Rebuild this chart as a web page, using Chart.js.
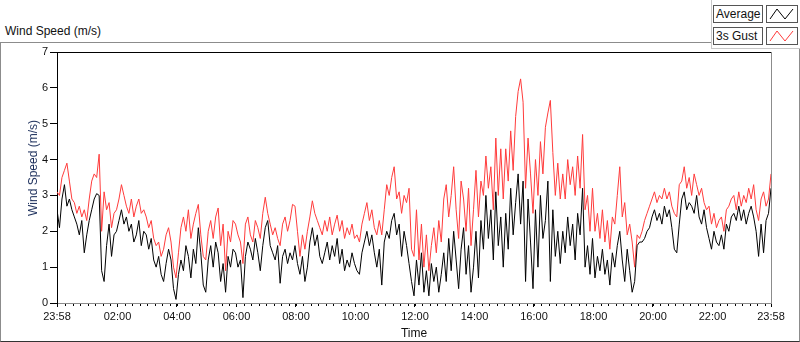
<!DOCTYPE html>
<html><head><meta charset="utf-8">
<script src="https://cdn.jsdelivr.net/npm/chart.js@4.4.1/dist/chart.umd.min.js"></script>
<style>
html,body{margin:0;padding:0;background:#fff;}
body{width:800px;height:342px;position:relative;overflow:hidden;font-family:"Liberation Sans",Arial,sans-serif;}
#panel{position:absolute;left:0;top:42px;width:798px;height:298px;border:1px solid #8c8c8c;border-bottom-color:#333;}
#c{position:absolute;left:0;top:0;}
#title{position:absolute;left:5px;top:24px;font-size:12px;color:#111;white-space:nowrap;}
#ytitle{position:absolute;left:33px;top:168px;transform:translate(-50%,-50%) rotate(-90deg);font-size:12px;color:#1a2d5a;white-space:nowrap;}
#xtitle{position:absolute;left:414px;top:333px;transform:translate(-50%,-50%);font-size:12px;color:#111;white-space:nowrap;}
#legend{position:absolute;left:711px;top:-1px;width:90px;height:49px;border-left:1px solid #c8c8c8;border-bottom:1px solid #c8c8c8;background:#fff;}
.lbl{position:absolute;left:713px;width:50px;height:18px;border:1px solid #555;font-size:12px;line-height:16px;padding-left:2px;box-sizing:border-box;color:#111;background:#fff;white-space:nowrap;}
.ico{position:absolute;left:766px;width:32px;height:18px;border:1px solid #555;box-sizing:border-box;background:#fff;}
.ico svg{position:absolute;left:0;top:0;}
</style>
</head><body>
<div id="panel"></div>
<div id="legend"></div>
<div class="lbl" style="top:5px">Average</div>
<div class="ico" style="top:5px"><svg width="30" height="16"><polyline points="3,13 10,3 18,13 26,3" fill="none" stroke="#000" stroke-width="1"/></svg></div>
<div class="lbl" style="top:27px">3s Gust</div>
<div class="ico" style="top:27px"><svg width="30" height="16"><polyline points="3,13 10,3 18,13 26,3" fill="none" stroke="#ff3b3b" stroke-width="1"/></svg></div>
<div id="title">Wind Speed (m/s)</div>
<canvas id="c" width="800" height="342"></canvas>
<div id="ytitle">Wind Speed (m/s)</div>
<div id="xtitle">Time</div>
<script>
// sample spacing (minutes from the 23:58 start)
const SAMPLE_MIN = 5;

// Average wind speed (m/s), one row per hour from 23:58
const averageSpeed = [
 2.6,2.1,2.9,3.3,2.7,2.9,2.6,2.4,2.2,1.9,2.3,1.4,
 1.9,2.3,2.6,2.9,3.05,3.0,0.9,0.6,1.6,2.2,1.3,1.9,
 2.0,2.3,2.6,2.2,2.4,2.0,2.2,1.7,1.9,2.3,1.6,2.0,
 1.9,1.5,1.8,1.2,1.0,1.3,0.8,0.6,1.1,1.5,1.2,0.4,
 0.1,0.8,1.2,0.9,1.6,1.3,0.7,1.5,1.1,2.1,1.4,0.5,
 0.3,1.2,1.6,1.0,1.7,1.4,0.6,1.1,0.3,1.3,1.0,1.5,
 1.4,1.0,1.2,0.15,1.3,1.7,1.5,1.2,1.8,1.4,0.9,1.6,
 2.1,2.3,1.6,1.4,1.2,1.6,0.55,1.3,1.5,1.1,1.4,1.2,
 1.6,1.1,0.8,1.3,0.6,1.0,1.7,2.1,1.6,1.9,1.3,1.1,
 1.4,1.7,1.2,1.6,1.3,1.8,1.1,1.5,0.9,1.2,1.0,1.4,
 1.1,0.9,0.8,1.4,1.7,2.0,1.6,1.9,1.4,1.0,1.5,0.5,
 1.7,2.0,1.8,2.3,2.5,1.9,2.2,1.3,2.0,1.6,1.1,0.6,
 0.2,1.2,0.5,1.4,0.3,0.9,0.2,1.1,0.6,1.0,0.3,0.8,
 1.4,0.6,1.8,0.9,2.0,1.2,0.4,1.5,2.1,0.8,1.6,0.3,
 1.0,2.0,0.7,2.3,1.5,3.0,1.8,2.6,1.2,3.1,1.6,2.4,
 1.0,2.5,1.5,3.2,1.9,2.8,3.6,2.2,3.4,0.6,2.9,1.7,
 0.4,2.6,1.0,3.0,1.8,2.3,3.4,0.6,2.6,1.3,2.0,1.1,
 2.0,1.4,2.4,1.6,2.2,1.2,2.5,1.9,3.2,1.0,1.6,0.8,
 1.8,0.7,1.3,0.9,1.5,0.8,1.2,0.5,1.4,1.0,1.6,2.0,
 1.2,0.6,1.5,0.9,0.3,0.6,1.6,1.7,1.7,1.8,2.0,2.1,
 2.4,2.6,2.3,2.5,2.2,2.7,2.4,2.6,2.1,1.5,1.4,2.2,
 2.9,3.1,2.6,2.8,2.7,2.5,3.0,2.4,2.2,2.6,2.1,1.8,
 1.5,2.0,1.7,1.6,1.9,1.5,2.2,2.0,2.4,2.5,2.3,2.7,
 2.3,2.6,2.2,2.5,2.7,2.4,2.0,1.3,2.2,1.4,2.3,2.5,
 3.2
];

// 3 s gust (m/s), one row per hour from 23:58
const gustSpeed = [
 3.1,3.0,3.5,3.7,3.9,3.4,2.9,2.8,2.5,2.7,2.4,2.6,
 2.3,2.9,3.4,3.6,3.5,4.15,2.0,3.1,2.6,2.8,2.1,2.5,
 2.6,2.9,3.3,3.0,2.7,2.5,2.9,2.4,2.7,2.9,2.5,2.6,
 2.4,2.1,2.3,1.8,1.6,1.7,1.3,1.5,1.9,2.1,1.7,1.0,
 0.7,1.4,2.1,2.4,2.0,2.6,1.8,2.2,2.5,2.75,1.9,1.3,
 1.2,2.0,2.3,1.8,2.4,2.65,1.6,2.2,0.9,2.0,1.7,2.3,
 2.2,1.9,1.7,1.1,2.2,2.4,1.9,1.7,2.3,2.1,1.8,2.5,
 2.95,2.5,2.2,1.9,2.1,1.8,1.6,2.2,2.4,2.0,2.3,2.75,
 2.7,2.0,1.3,1.9,1.5,2.0,2.4,2.85,2.5,2.3,2.1,1.9,
 2.3,2.0,2.4,1.9,2.2,2.45,2.0,2.3,1.8,2.1,1.9,2.2,
 1.8,1.9,1.7,2.2,2.5,2.8,2.3,2.6,2.1,1.9,2.3,1.9,
 2.6,3.3,3.0,3.5,3.8,2.9,3.1,2.5,3.0,2.8,3.2,1.5,
 1.3,2.6,1.2,2.2,1.0,1.9,0.9,1.6,2.1,1.4,2.3,1.7,
 2.9,3.3,2.4,3.0,3.8,2.6,1.8,3.4,2.9,2.0,3.2,1.6,
 2.6,3.7,2.4,3.4,3.0,4.1,3.2,3.8,2.6,4.6,3.0,4.3,
 2.9,4.3,3.4,4.8,3.7,5.2,5.9,6.25,5.6,3.2,4.6,3.6,
 2.5,4.0,3.0,4.5,3.6,4.9,5.3,5.65,4.2,3.0,3.9,2.9,
 3.6,2.9,4.0,3.3,3.8,3.0,4.1,3.2,4.7,2.6,3.0,2.0,
 3.2,2.0,2.5,1.8,2.6,1.7,2.3,1.5,2.4,2.2,3.0,3.8,
 2.4,2.8,1.9,2.2,1.7,1.0,1.9,1.8,2.0,2.3,2.5,2.7,
 2.9,3.1,2.8,3.0,2.9,3.2,2.9,3.1,2.7,2.5,2.4,3.3,
 3.4,3.8,3.2,3.5,3.0,3.6,3.3,3.0,3.2,2.8,2.6,2.7,
 2.2,2.5,2.1,2.3,2.4,2.0,2.6,2.7,2.9,3.0,2.6,3.1,
 2.7,3.0,2.8,3.2,2.9,3.3,2.6,2.3,2.9,3.1,2.7,2.9,
 3.6
];

// x-axis tick labels and their positions (minutes from 23:58)
const tickLabels  = ['23:58','02:00','04:00','06:00','08:00','10:00','12:00','14:00','16:00','18:00','20:00','22:00','23:58'];
const tickMinutes = [0,122,242,362,482,602,722,842,962,1082,1202,1322,1440];
const yTicks = [0,1,2,3,4,5,6,7];

const toPoints = arr => arr.map((v,i)=>({x:i*SAMPLE_MIN, y:v}));
const tickFont = {family:'"Liberation Sans", Arial, sans-serif', size:11};

const minorTicks = {
  id:'minorTicks',
  afterDraw(chart){
    const xs = chart.scales.x, ca = chart.chartArea, ctx = chart.ctx;
    ctx.save();
    ctx.strokeStyle = '#000'; ctx.lineWidth = 1;
    ctx.beginPath();
    for(let m = 17; m < 1440; m += 15){
      const px = Math.round(xs.getPixelForValue(m)) + 0.5;
      ctx.moveTo(px, ca.bottom + 1); ctx.lineTo(px, ca.bottom + 3);
    }
    ctx.stroke();
    // frame top (dark) and right (grey)
    ctx.beginPath(); ctx.strokeStyle = '#000';
    ctx.moveTo(ca.left, Math.round(ca.top)+0.5); ctx.lineTo(ca.right, Math.round(ca.top)+0.5); ctx.stroke();
    ctx.beginPath(); ctx.strokeStyle = '#8c8c8c';
    ctx.moveTo(Math.round(ca.right)+0.5, ca.top); ctx.lineTo(Math.round(ca.right)+0.5, ca.bottom); ctx.stroke();
    ctx.restore();
  }
};

new Chart(document.getElementById('c'), {
  type:'line',
  data:{datasets:[
    {label:'Average', data:toPoints(averageSpeed), borderColor:'#000000', borderWidth:1, pointRadius:0, tension:0, fill:false},
    {label:'3s Gust', data:toPoints(gustSpeed), borderColor:'#ff3b3b', borderWidth:1, pointRadius:0, tension:0, fill:false}
  ]},
  options:{
    responsive:false, animation:false, events:[],
    layout:{padding:{top:52, right:29, left:0, bottom:0}},
    plugins:{legend:{display:false}, tooltip:{enabled:false}},
    scales:{
      x:{
        type:'linear', min:0, max:1440,
        afterBuildTicks: s => { s.ticks = tickMinutes.map(v=>({value:v})); },
        afterFit: s => { s.height = 39; },
        ticks:{autoSkip:false, maxRotation:0, minRotation:0, color:'#111', font:tickFont, padding:3,
               callback:(v)=>{ const k = tickMinutes.indexOf(v); return k>=0 ? tickLabels[k] : ''; }},
        grid:{drawOnChartArea:false, drawTicks:true, tickLength:4, color:'#000'},
        border:{display:true, color:'#8c8c8c'}
      },
      y:{
        min:0, max:7,
        afterBuildTicks: s => { s.ticks = yTicks.map(v=>({value:v})); },
        afterFit: s => { s.width = 57; },
        ticks:{color:'#111', font:tickFont, padding:2},
        grid:{drawOnChartArea:false, drawTicks:true, tickLength:7, color:'#000'},
        border:{display:true, color:'#000'}
      }
    }
  },
  plugins:[minorTicks]
});
</script>
</body></html>
